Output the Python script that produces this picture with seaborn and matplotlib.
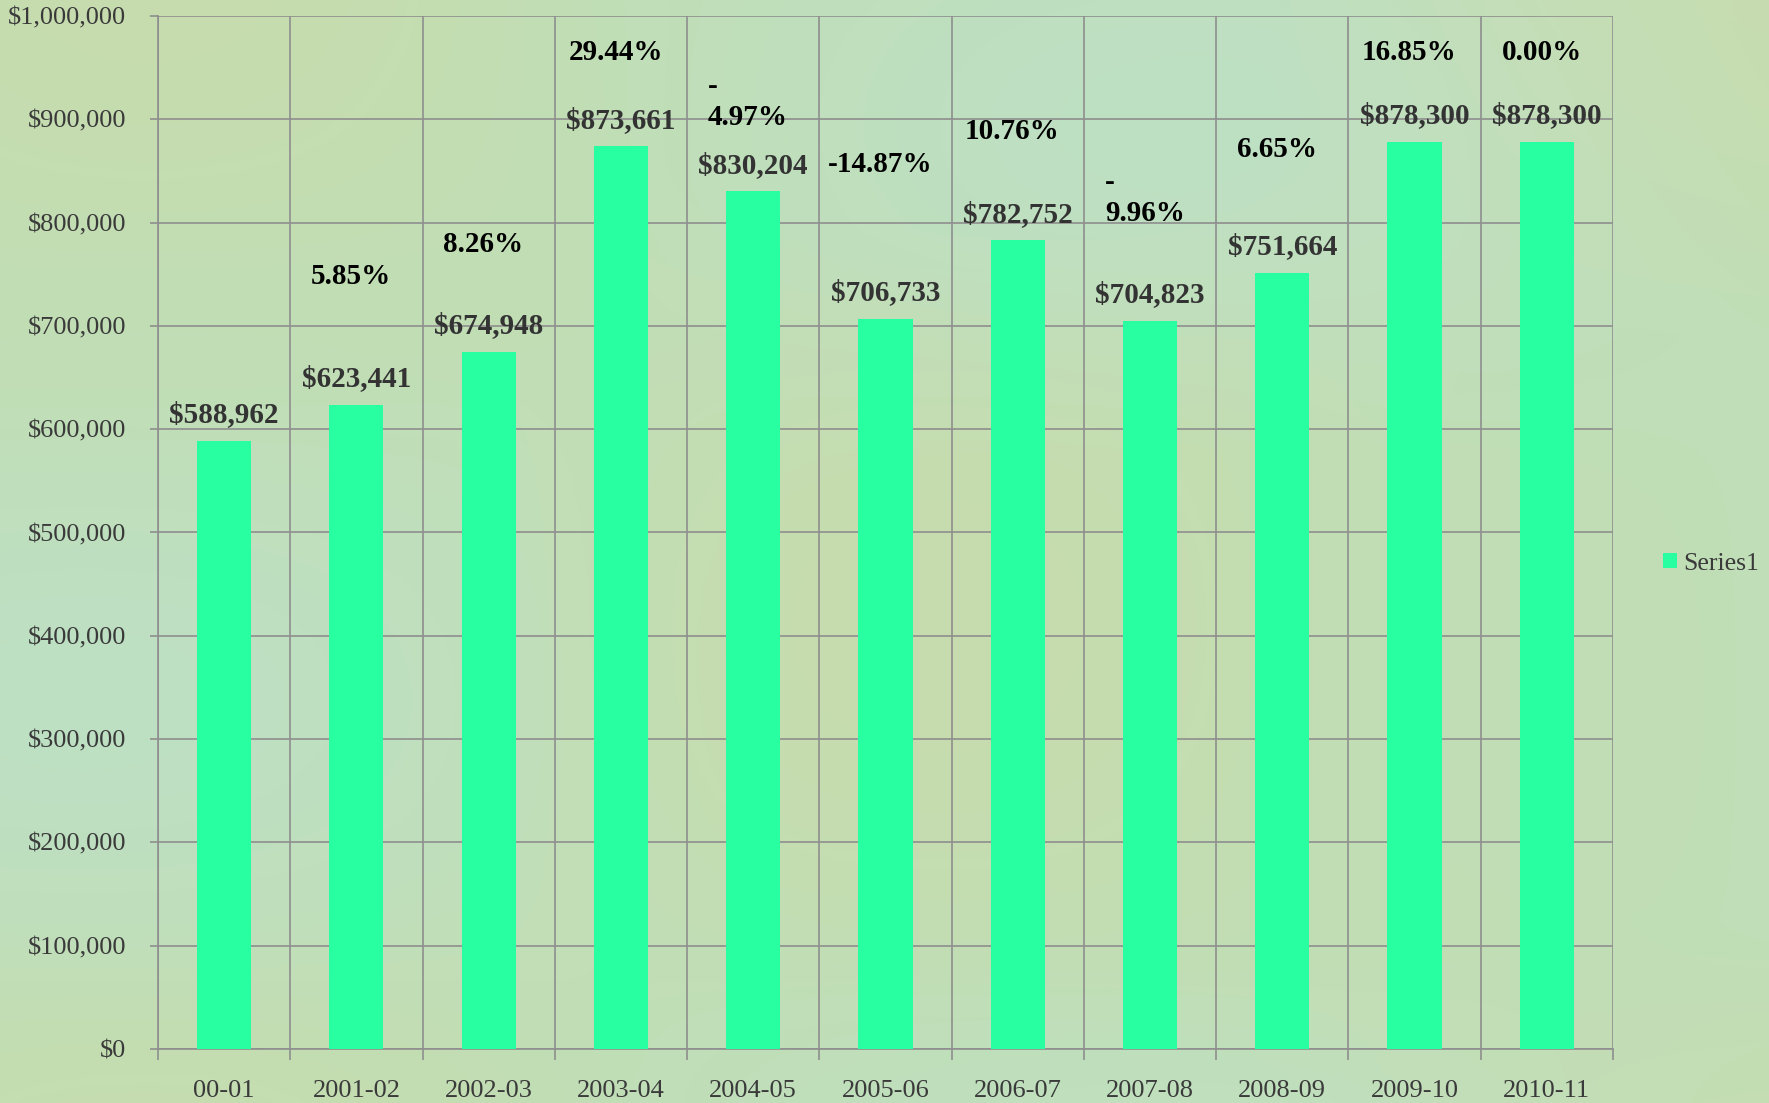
import numpy as np
import matplotlib
matplotlib.use("Agg")
import matplotlib.pyplot as plt
import seaborn as sns
from matplotlib.patches import Patch
from matplotlib.ticker import FuncFormatter, MultipleLocator

# chart data
seasons = ["00-01", "2001-02", "2002-03", "2003-04", "2004-05", "2005-06",
           "2006-07", "2007-08", "2008-09", "2009-10", "2010-11"]
values = [588962, 623441, 674948, 873661, 830204, 706733,
          782752, 704823, 751664, 878300, 878300]
pct_labels = ["", "5.85%", "8.26%", "29.44%", "-\n4.97%", "-14.87%",
              "10.76%", "-\n9.96%", "6.65%", "16.85%", "0.00%"]
# where the percentage labels sit (in dollars)
pct_label_y = [None, 748000, 779000, 965000, 917000, 856000,
               888000, 824000, 871000, 965000, 965000]

bar_color = "#28ffa0"
grid_color = "#8e8e8e"
serif = ["Liberation Serif", "DejaVu Serif"]

fig = plt.figure(figsize=(17.69, 11.03), dpi=100)

# soft green "paper" background
h, w = 221, 354
yy, xx = np.mgrid[0:1:h * 1j, 0:1:w * 1j]
base = np.array([0.755, 0.87, 0.71])
yellow = np.array([0.80, 0.86, 0.66])
blue = np.array([0.74, 0.885, 0.80])
wy = np.clip(0.45 * np.sin(7.0 * xx + 1.0) * np.cos(5.0 * yy + 0.3) + 0.1, 0, 0.6)
wb = np.clip(0.5 * np.sin(5.0 * xx - 1.8) * np.sin(6.0 * yy + 0.9) + 0.1, 0, 0.6)
bg = (base * (1 - wy[..., None] - wb[..., None])
      + yellow * wy[..., None] + blue * wb[..., None])
bg_ax = fig.add_axes([0, 0, 1, 1], zorder=-5)
bg_ax.imshow(np.clip(bg, 0, 1), aspect="auto", interpolation="bicubic")
bg_ax.axis("off")

ax = fig.add_axes([0.0893, 0.049, 0.9118 - 0.0893, 0.9855 - 0.049])
ax.set_facecolor("none")

sns.barplot(x=seasons, y=values, color=bar_color, saturation=1, width=0.41,
            ax=ax, zorder=3)

ax.set_xlim(-0.5, len(seasons) - 0.5)
ax.set_ylim(0, 1000000)
ax.yaxis.set_major_locator(MultipleLocator(100000))
ax.yaxis.set_major_formatter(FuncFormatter(lambda v, p: f"${v:,.0f}"))
ax.set_xticks(np.arange(-0.5, len(seasons), 1.0), minor=True)

ax.grid(False)
ax.grid(True, axis="y", which="major", color=grid_color, linewidth=1.2, zorder=0)
ax.grid(True, axis="x", which="minor", color=grid_color, linewidth=1.2, zorder=0)
ax.set_axisbelow(True)
for side in ["top", "right"]:
    ax.spines[side].set_visible(False)
for side in ["left", "bottom"]:
    ax.spines[side].set_color(grid_color)
    ax.spines[side].set_linewidth(1.2)

ax.tick_params(axis="y", which="major", length=6, width=1.2, color=grid_color,
               pad=17, labelsize=19, labelcolor="#3a3a3a")
ax.tick_params(axis="x", which="major", length=0, pad=22, labelsize=19,
               labelcolor="#3a3a3a")
ax.tick_params(axis="x", which="minor", length=8, width=1.2, color=grid_color)
for lab in ax.get_xticklabels() + ax.get_yticklabels():
    lab.set_fontfamily(serif)
ax.set_xlabel("")
ax.set_ylabel("")

# value labels above bars
for i, v in enumerate(values):
    ax.annotate(f"${v:,}", (i, v), xytext=(0, 9), textcoords="offset points",
                ha="center", va="bottom", fontsize=21, fontweight="bold",
                color="#333333", family=serif, zorder=5)

# percentage change labels
for i, (t, y) in enumerate(zip(pct_labels, pct_label_y)):
    if not t:
        continue
    ax.text(i - 0.04, y, t, ha="center", va="center", multialignment="left",
            fontsize=21, fontweight="bold", color="black", family=serif,
            linespacing=1.2, zorder=5)

handle = Patch(facecolor=bar_color, edgecolor="none")
leg = fig.legend([handle], ["Series1"], loc="center left",
                 bbox_to_anchor=(0.927, 0.489), frameon=False,
                 handlelength=0.55, handleheight=0.55, handletextpad=0.25,
                 prop={"family": serif, "size": 18.5})
for t in leg.get_texts():
    t.set_color("#3a3a3a")

fig.savefig("out.png", dpi=100)
